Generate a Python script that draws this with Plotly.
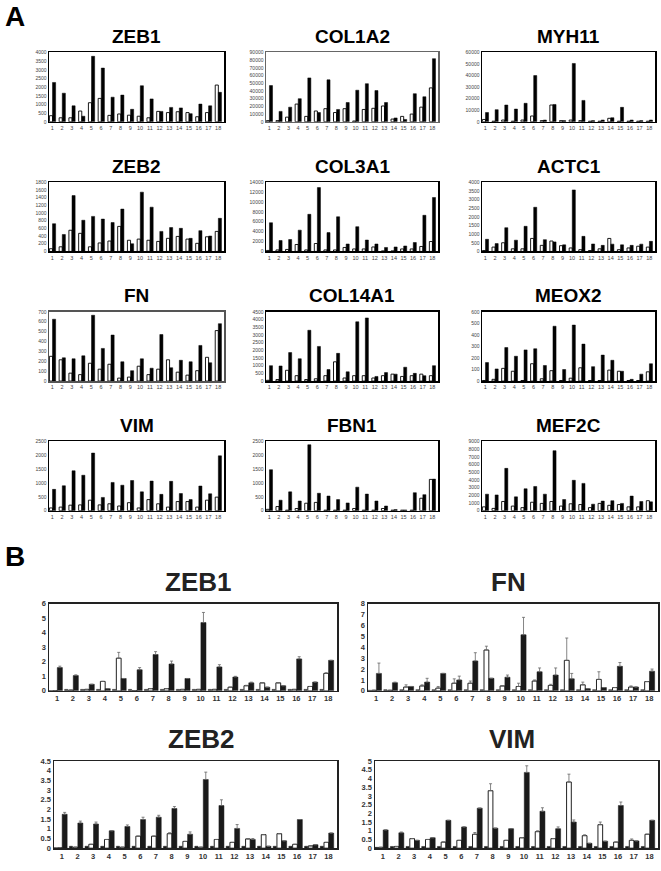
import plotly.graph_objects as go

W, H = 661, 871
groups = list(range(1, 19))
group_labels = [str(g) for g in groups]

# ---------------- Panel A data (white = open bars, black = filled bars) ----------------
a_titles = ["ZEB1", "COL1A2", "MYH11", "ZEB2", "COL3A1", "ACTC1",
            "FN", "COL14A1", "MEOX2", "VIM", "FBN1", "MEF2C"]
a_ymax = [4000, 90000, 60000, 1800, 14000, 4000, 700, 4500, 600, 2500, 2500, 9000]
a_dtick = [500, 10000, 10000, 200, 2000, 500, 100, 500, 100, 500, 500, 1000]

zeb1_white = [350, 230, 230, 620, 1100, 1350, 370, 450, 380, 320, 230, 600, 530, 580, 530, 290, 530, 2120]
zeb1_black = [2270, 1650, 920, 320, 3780, 3100, 1420, 1540, 720, 2080, 1320, 600, 830, 800, 470, 1020, 920, 1700]
col1a2_white = [1500, 1500, 6000, 23000, 7000, 14000, 17000, 12000, 17000, 1000, 16000, 17500, 20500, 3500, 7000, 10000, 19000, 44000]
col1a2_black = [47000, 13500, 19000, 30000, 57000, 12000, 54500, 16000, 25000, 41000, 49500, 40500, 25000, 5000, 3000, 36500, 32500, 82000]
myh11_white = [2000, 500, 1500, 500, 1500, 5000, 1000, 14500, 1000, 1500, 1000, 500, 500, 3000, 500, 500, 500, 500]
myh11_black = [8000, 10500, 14500, 11000, 16000, 40000, 1500, 15000, 1000, 50500, 18500, 1000, 1500, 3500, 12500, 1500, 1000, 1500]
zeb2_white = [70, 120, 550, 470, 120, 220, 270, 650, 290, 320, 290, 260, 340, 390, 320, 210, 380, 520]
zeb2_black = [720, 440, 1450, 810, 910, 840, 750, 1100, 200, 1540, 1150, 520, 620, 600, 340, 540, 400, 860]
col3a1_white = [200, 300, 400, 1400, 300, 1600, 300, 300, 800, 500, 500, 900, 100, 100, 500, 500, 1000, 2000]
col3a1_black = [5800, 2200, 2400, 4300, 7500, 12900, 3800, 7000, 1500, 5000, 2300, 1500, 800, 900, 1100, 1800, 7300, 10900]
actc1_white = [50, 250, 500, 150, 150, 750, 350, 600, 330, 200, 100, 50, 150, 750, 100, 200, 300, 250]
actc1_black = [700, 450, 1370, 650, 1450, 2550, 680, 550, 380, 3550, 870, 430, 350, 420, 380, 350, 420, 580]
fn_a_white = [250, 215, 80, 65, 180, 120, 170, 30, 40, 150, 65, 120, 215, 90, 60, 105, 240, 510]
fn_a_black = [625, 235, 225, 255, 665, 330, 465, 195, 105, 225, 130, 470, 135, 210, 195, 360, 185, 580]
col14a1_white = [50, 100, 700, 350, 100, 150, 350, 1250, 200, 350, 350, 200, 350, 450, 300, 350, 450, 350]
col14a1_black = [1000, 980, 1850, 1450, 3300, 2250, 750, 1800, 600, 3850, 4100, 300, 550, 450, 900, 500, 350, 1000]
meox2_white = [5, 15, 110, 85, 5, 150, 20, 90, 5, 25, 115, 5, 5, 95, 85, 5, 5, 80]
meox2_black = [160, 105, 290, 215, 270, 280, 135, 475, 100, 485, 320, 125, 225, 180, 85, 15, 60, 150]
vim_a_white = [100, 130, 200, 210, 380, 210, 250, 170, 290, 100, 400, 250, 130, 330, 330, 130, 380, 490]
vim_a_black = [770, 900, 1440, 1280, 2080, 480, 1020, 920, 1090, 680, 1070, 590, 1060, 620, 400, 890, 610, 1980]
fbn1_white = [50, 150, 20, 80, 270, 300, 20, 20, 20, 80, 20, 20, 80, 20, 20, 20, 450, 1130]
fbn1_black = [1480, 380, 680, 350, 2380, 630, 530, 400, 280, 850, 600, 350, 170, 40, 30, 650, 580, 1140]
mef2c_white = [500, 300, 1200, 600, 400, 1100, 950, 1200, 600, 900, 800, 400, 950, 700, 800, 500, 500, 1300]
mef2c_black = [2150, 2050, 5500, 1800, 2850, 3150, 2150, 7800, 1450, 3950, 3550, 850, 1250, 1300, 950, 1900, 1200, 1150]

a_white = [zeb1_white, col1a2_white, myh11_white, zeb2_white, col3a1_white, actc1_white,
           fn_a_white, col14a1_white, meox2_white, vim_a_white, fbn1_white, mef2c_white]
a_black = [zeb1_black, col1a2_black, myh11_black, zeb2_black, col3a1_black, actc1_black,
           fn_a_black, col14a1_black, meox2_black, vim_a_black, fbn1_black, mef2c_black]

# ---------------- Panel B data (control, white, black; errors on white/black) ----------------
b_titles = ["ZEB1", "FN", "ZEB2", "VIM"]
b_ymax = [6, 8, 4.5, 5]
b_dtick = [1, 1, 0.5, 0.5]

b_zeb1_ctrl = [0.02, 0.1, 0.1, 0.1, 0.1, 0.1, 0.1, 0.1, 0.1, 0.1, 0.1, 0.1, 0.1, 0.1, 0.1, 0.1, 0.1, 0.1]
b_zeb1_white = [0.02, 0.05, 0.1, 0.65, 2.25, 0.02, 0.15, 0.15, 0.1, 0.1, 0.1, 0.25, 0.35, 0.55, 0.55, 0.1, 0.3, 1.2]
b_zeb1_white_err = [0, 0, 0, 0, 0.4, 0, 0, 0, 0, 0, 0, 0, 0.03, 0, 0, 0, 0, 0.05]
b_zeb1_black = [1.6, 1.05, 0.45, 0.15, 0.85, 1.45, 2.5, 1.85, 0.85, 4.7, 1.65, 0.95, 0.55, 0.25, 0.35, 2.2, 0.6, 2.1]
b_zeb1_black_err = [0.1, 0.05, 0, 0, 0, 0.15, 0.2, 0.2, 0, 0.7, 0.15, 0.05, 0.05, 0, 0, 0.15, 0, 0]

b_fn_ctrl = [0.05, 0.1, 0.1, 0.1, 0.1, 0.1, 0.1, 0.1, 0.1, 0.1, 0.1, 0.1, 0.1, 0.1, 0.1, 0.1, 0.1, 0.1]
b_fn_white = [0.05, 0.05, 0.35, 0.45, 0.25, 0.7, 0.7, 3.75, 0.45, 0.4, 0.9, 0.5, 2.8, 0.55, 1.05, 0.3, 0.35, 0.85]
b_fn_white_err = [0, 0, 0.2, 0.1, 0.15, 0.4, 0.2, 0.35, 0, 0.3, 0.1, 0.1, 2.05, 0.25, 0.7, 0, 0.1, 0]
b_fn_black = [1.6, 0.75, 0.4, 0.8, 1.6, 1.0, 2.75, 1.15, 1.25, 5.15, 1.75, 1.45, 1.1, 0.2, 0.3, 2.25, 0.35, 1.8]
b_fn_black_err = [0.95, 0.05, 0, 0.35, 0, 0.35, 0.75, 0, 0.2, 1.6, 0.35, 0.65, 0.5, 0, 0, 0.35, 0, 0.2]

b_zeb2_ctrl = [0.02, 0.1, 0.1, 0.1, 0.1, 0.1, 0.1, 0.1, 0.1, 0.1, 0.1, 0.1, 0.1, 0.1, 0.1, 0.1, 0.1, 0.1]
b_zeb2_white = [0.02, 0.05, 0.2, 0.45, 0.05, 0.62, 0.62, 0.75, 0.35, 0.05, 0.45, 0.3, 0.48, 0.7, 0.75, 0.2, 0.12, 0.3]
b_zeb2_white_err = [0, 0, 0, 0, 0, 0, 0, 0.05, 0, 0, 0, 0, 0, 0, 0, 0, 0, 0]
b_zeb2_black = [1.75, 1.3, 1.25, 0.9, 1.12, 1.48, 1.6, 2.05, 0.72, 3.55, 2.2, 1.02, 0.45, 0.1, 0.38, 1.48, 0.18, 0.78]
b_zeb2_black_err = [0.1, 0.1, 0.1, 0, 0.08, 0.12, 0.1, 0.1, 0.12, 0.38, 0.3, 0.2, 0.05, 0, 0, 0, 0, 0]

b_vim_ctrl = [0.05, 0.1, 0.1, 0.1, 0.1, 0.1, 0.1, 0.1, 0.1, 0.1, 0.1, 0.1, 0.1, 0.1, 0.1, 0.1, 0.1, 0.1]
b_vim_white = [0.05, 0.1, 0.55, 0.5, 0.35, 0.45, 0.8, 3.3, 0.45, 0.6, 0.95, 0.55, 3.8, 0.72, 1.35, 0.35, 0.45, 0.8]
b_vim_white_err = [0, 0, 0, 0, 0, 0, 0.1, 0.4, 0, 0, 0.05, 0, 0.45, 0.05, 0.15, 0, 0.08, 0]
b_vim_black = [1.05, 0.88, 0.45, 0.6, 1.6, 1.22, 2.3, 1.15, 1.12, 4.35, 2.12, 1.12, 1.5, 0.28, 0.4, 2.45, 0.42, 1.6]
b_vim_black_err = [0, 0.05, 0, 0, 0, 0, 0, 0, 0, 0.38, 0.2, 0.1, 0.12, 0, 0, 0.2, 0, 0]

b_ctrl = [b_zeb1_ctrl, b_fn_ctrl, b_zeb2_ctrl, b_vim_ctrl]
b_white = [b_zeb1_white, b_fn_white, b_zeb2_white, b_vim_white]
b_white_err = [b_zeb1_white_err, b_fn_white_err, b_zeb2_white_err, b_vim_white_err]
b_black = [b_zeb1_black, b_fn_black, b_zeb2_black, b_vim_black]
b_black_err = [b_zeb1_black_err, b_fn_black_err, b_zeb2_black_err, b_vim_black_err]

# ---------------- layout geometry (pixels) ----------------
a_cols = [(49, 224), (266, 438), (482, 655)]
a_rows = [49, 180, 311, 442]
a_h = 70
a_border = ["black", "#666", "black", "black", "black", "black",
            "#555", "black", "black", "black", "black", "black"]
b_boxes = [(49, 337, 606, 694), (368, 658, 606, 694), (54, 337, 765, 853), (375, 658, 765, 853)]

FONT = "Liberation Sans, Arial, sans-serif"

fig = go.Figure()
layout = dict(width=W, height=H, margin=dict(l=0, r=0, t=0, b=0),
              paper_bgcolor="white", plot_bgcolor="white", showlegend=False,
              font=dict(family=FONT))
annotations = []


def px_x(x):
    return x / W


def px_y(y):
    return 1 - y / H


idx = 0
for i in range(12):
    idx += 1
    r, c = divmod(i, 3)
    l, rr = a_cols[c]
    t = a_rows[r]
    b = t + a_h
    xa = "x" if idx == 1 else f"x{idx}"
    ya = "y" if idx == 1 else f"y{idx}"
    fig.add_trace(go.Bar(x=groups, y=a_white[i], xaxis=xa, yaxis=ya,
                         width=0.32, offset=-0.3,
                         marker=dict(color="white", line=dict(color="black", width=0.9))))
    fig.add_trace(go.Bar(x=groups, y=a_black[i], xaxis=xa, yaxis=ya,
                         width=0.32, offset=0.02,
                         marker=dict(color="black", line=dict(color="black", width=0.5))))
    key = "" if idx == 1 else str(idx)
    layout["xaxis" + key] = dict(domain=[px_x(l), px_x(rr)], anchor=ya, range=[0.66, 18.6],
                                 tickmode="array", tickvals=groups, ticktext=group_labels,
                                 showline=True, mirror=True, linecolor=a_border[i], linewidth=1.5,
                                 showgrid=False, zeroline=False, ticks="",
                                 tickfont=dict(size=5.5, color="#444"))
    layout["yaxis" + key] = dict(domain=[px_y(b), px_y(t)], anchor=xa, range=[0, a_ymax[i]],
                                 dtick=a_dtick[i], tick0=0, tickformat="d",
                                 showline=True, mirror=True, linecolor=a_border[i], linewidth=1.5,
                                 showgrid=False, zeroline=False, ticks="",
                                 tickfont=dict(size=5, color="#444"))
    annotations.append(dict(text=f"<b>{a_titles[i]}</b>", x=px_x((l + rr) / 2), y=px_y(t - 16),
                            xref="paper", yref="paper", showarrow=False, xanchor="center",
                            yanchor="middle", font=dict(size=19, color="black", family=FONT)))

for j in range(4):
    idx += 1
    l, rr, t, b = b_boxes[j]
    xa = f"x{idx}"
    ya = f"y{idx}"
    fig.add_trace(go.Bar(x=groups, y=b_ctrl[j], xaxis=xa, yaxis=ya,
                         width=0.2, offset=-0.52,
                         marker=dict(color="#1a1a1a", line=dict(color="#1a1a1a", width=0.5))))
    fig.add_trace(go.Bar(x=groups, y=b_white[j], xaxis=xa, yaxis=ya,
                         width=0.3, offset=-0.28,
                         marker=dict(color="white", line=dict(color="#222", width=1)),
                         error_y=dict(type="data", array=b_white_err[j], symmetric=False,
                                      arrayminus=[0] * 18, color="#666", thickness=0.8, width=1.5)))
    fig.add_trace(go.Bar(x=groups, y=b_black[j], xaxis=xa, yaxis=ya,
                         width=0.32, offset=0.02,
                         marker=dict(color="#1a1a1a", line=dict(color="#1a1a1a", width=0.5)),
                         error_y=dict(type="data", array=b_black_err[j], symmetric=False,
                                      arrayminus=[0] * 18, color="#666", thickness=0.8, width=1.5)))
    key = str(idx)
    layout["xaxis" + key] = dict(domain=[px_x(l), px_x(rr)], anchor=ya, range=[0.5, 18.55],
                                 tickmode="array", tickvals=groups, ticktext=group_labels,
                                 showline=True, mirror=True, linecolor="#222", linewidth=1.5,
                                 showgrid=False, zeroline=False, ticks="",
                                 tickfont=dict(size=7.5, color="#333", weight="bold"))
    layout["yaxis" + key] = dict(domain=[px_y(b), px_y(t)], anchor=xa, range=[0, b_ymax[j]],
                                 dtick=b_dtick[j], tick0=0,
                                 showline=True, mirror=True, linecolor="#222", linewidth=1.5,
                                 showgrid=False, zeroline=False, ticks="",
                                 tickfont=dict(size=7.5, color="#333", weight="bold"))
    annotations.append(dict(text=f"<b>{b_titles[j]}</b>", x=px_x((l + rr) / 2 + (5 if j % 2 == 0 else -5)),
                            y=px_y(t - 22), xref="paper", yref="paper", showarrow=False,
                            xanchor="center", yanchor="middle",
                            font=dict(size=26, color="#222", family=FONT)))

annotations.append(dict(text="<b>A</b>", x=px_x(3), y=px_y(13), xref="paper", yref="paper",
                        showarrow=False, xanchor="left", yanchor="middle",
                        font=dict(size=28, color="black", family=FONT)))
annotations.append(dict(text="<b>B</b>", x=px_x(3), y=px_y(558), xref="paper", yref="paper",
                        showarrow=False, xanchor="left", yanchor="middle",
                        font=dict(size=28, color="black", family=FONT)))
layout["annotations"] = annotations
fig.update_layout(**layout)
fig.write_html("out.html", config={"displayModeBar": False, "staticPlot": True},
               post_script="document.body.style.margin='0';document.body.style.overflow='hidden';")
